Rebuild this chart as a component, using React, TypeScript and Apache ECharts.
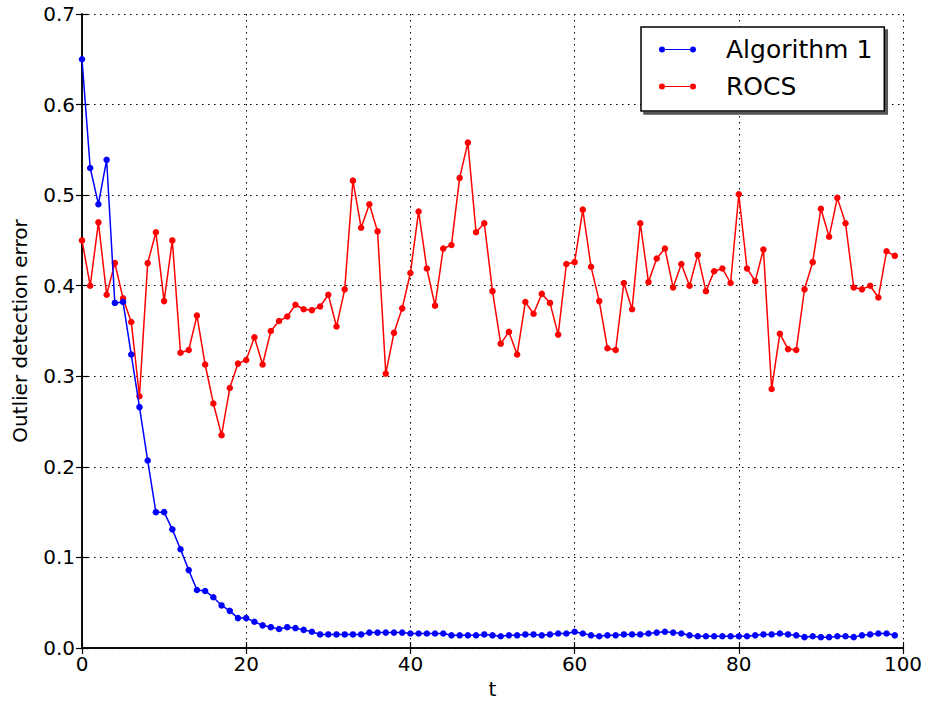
import React, { useEffect, useRef } from "react";
import * as echarts from "echarts";

// Iteration index t = 0..99
const steps: number[] = Array.from({ length: 100 }, (_, i) => i);

// Outlier detection error per iteration
const algorithm1: number[] = [
  0.65, 0.53, 0.49, 0.539, 0.381, 0.382, 0.324, 0.266, 0.207, 0.15,
  0.15, 0.131, 0.109, 0.086, 0.064, 0.063, 0.056, 0.047, 0.041, 0.033,
  0.033, 0.029, 0.025, 0.023, 0.021, 0.023, 0.022, 0.02, 0.018, 0.015,
  0.015, 0.015, 0.015, 0.015, 0.015, 0.017, 0.017, 0.017, 0.017, 0.017,
  0.016, 0.016, 0.016, 0.016, 0.016, 0.014, 0.014, 0.014, 0.014, 0.015,
  0.014, 0.013, 0.014, 0.014, 0.015, 0.015, 0.014, 0.015, 0.016, 0.016,
  0.018, 0.016, 0.014, 0.013, 0.014, 0.014, 0.015, 0.015, 0.015, 0.016,
  0.017, 0.018, 0.017, 0.016, 0.014, 0.013, 0.013, 0.013, 0.013, 0.013,
  0.013, 0.013, 0.014, 0.015, 0.015, 0.016, 0.015, 0.014, 0.012, 0.013,
  0.012, 0.012, 0.013, 0.013, 0.012, 0.014, 0.015, 0.016, 0.016, 0.014,
];

const rocs: number[] = [
  0.45, 0.4, 0.47, 0.39, 0.425, 0.386, 0.36, 0.278, 0.425, 0.459,
  0.383, 0.45, 0.326, 0.329, 0.367, 0.313, 0.27, 0.235, 0.287, 0.314,
  0.318, 0.343, 0.313, 0.35, 0.361, 0.366, 0.379, 0.374, 0.373, 0.377,
  0.39, 0.355, 0.396, 0.516, 0.464, 0.49, 0.46, 0.303, 0.348, 0.375,
  0.414, 0.482, 0.419, 0.378, 0.441, 0.445, 0.519, 0.558, 0.459, 0.469,
  0.394, 0.336, 0.349, 0.324, 0.382, 0.369, 0.391, 0.381, 0.346, 0.424,
  0.426, 0.484, 0.421, 0.383, 0.331, 0.329, 0.403, 0.374, 0.469, 0.404,
  0.43, 0.441, 0.398, 0.424, 0.4, 0.434, 0.394, 0.416, 0.419, 0.403,
  0.501, 0.419, 0.405, 0.44, 0.286, 0.347, 0.33, 0.329, 0.396, 0.426,
  0.485, 0.454, 0.497, 0.469, 0.398, 0.396, 0.4, 0.387, 0.438, 0.433,
];

const seriesNames = ["Algorithm 1", "ROCS"];
const seriesColors = ["#0000ff", "#ff0000"];

const FONT = "DejaVu Sans";

// line with a dot at each end, used as the legend glyph
// (segment stops at the dots so the fill stays solid)
const legendIcon =
  "path://M0,6a6,6 0 1,0 12,0a6,6 0 1,0 -12,0Z M62,6a6,6 0 1,0 12,0a6,6 0 1,0 -12,0Z M11.5,4.8L62.5,4.8L62.5,7.2L11.5,7.2Z";

export default function App() {
  const ref = useRef<HTMLDivElement>(null);

  useEffect(() => {
    if (!ref.current) return;
    const chart = echarts.init(ref.current, null, { renderer: "svg" });

    const frameLine = { show: true, lineStyle: { color: "#000", width: 1.5 } };
    const tickIn = { show: true, inside: true, length: 6, lineStyle: { color: "#000", width: 1.2 } };
    const grid = { show: true, lineStyle: { color: "#000", width: 1, type: [1.5, 4.5] as number[] } };

    chart.setOption({
      animation: false,
      backgroundColor: "#fff",
      textStyle: { fontFamily: FONT },
      grid: { left: 82, right: 27, top: 14, bottom: 61, containLabel: false },
      legend: {
        data: seriesNames,
        orient: "vertical",
        left: 641,
        top: 27,
        width: 248,
        icon: legendIcon,
        itemWidth: 37,
        itemHeight: 6,
        itemGap: 12,
        padding: [10, 12, 12, 18],
        backgroundColor: "#fff",
        borderColor: "#000",
        borderWidth: 1.5,
        shadowColor: "#555",
        shadowOffsetX: 3,
        shadowOffsetY: 3,
        shadowBlur: 0,
        textStyle: { fontFamily: FONT, fontSize: 25, color: "#000", padding: [0, 0, 0, 25] },
      },
      xAxis: [
        {
          type: "value",
          min: 0,
          max: 100,
          interval: 20,
          name: "t",
          nameLocation: "middle",
          nameGap: 30,
          nameTextStyle: { fontFamily: FONT, fontSize: 20, color: "#000" },
          axisLine: frameLine,
          axisTick: tickIn,
          axisLabel: { fontFamily: FONT, fontSize: 20, color: "#000", margin: 6 },
          splitLine: grid,
        },
        {
          type: "value",
          position: "top",
          min: 0,
          max: 100,
          interval: 20,
          axisLine: frameLine,
          axisTick: tickIn,
          axisLabel: { show: false },
          splitLine: { show: false },
        },
      ],
      yAxis: [
        {
          type: "value",
          min: 0,
          max: 0.7,
          interval: 0.1,
          name: "Outlier detection error",
          nameLocation: "middle",
          nameGap: 52,
          nameTextStyle: { fontFamily: FONT, fontSize: 20, color: "#000" },
          axisLine: frameLine,
          axisTick: tickIn,
          axisLabel: {
            fontFamily: FONT,
            fontSize: 20,
            color: "#000",
            margin: 7,
            formatter: (v: number) => v.toFixed(1),
          },
          splitLine: grid,
        },
        {
          type: "value",
          position: "right",
          min: 0,
          max: 0.7,
          interval: 0.1,
          axisLine: frameLine,
          axisTick: tickIn,
          axisLabel: { show: false },
          splitLine: { show: false },
        },
      ],
      series: [algorithm1, rocs].map((vals, k) => ({
        name: seriesNames[k],
        type: "line",
        data: steps.map((t, i) => [t, vals[i]]),
        symbol: "circle",
        symbolSize: 6.5,
        showSymbol: true,
        lineStyle: { color: seriesColors[k], width: 1.5 },
        itemStyle: { color: seriesColors[k] },
        z: 3 - k,
      })),
    });

    return () => chart.dispose();
  }, []);

  return (
    <div
      ref={ref}
      style={{ position: "fixed", left: 0, top: 0, width: 930, height: 709 }}
    />
  );
}
